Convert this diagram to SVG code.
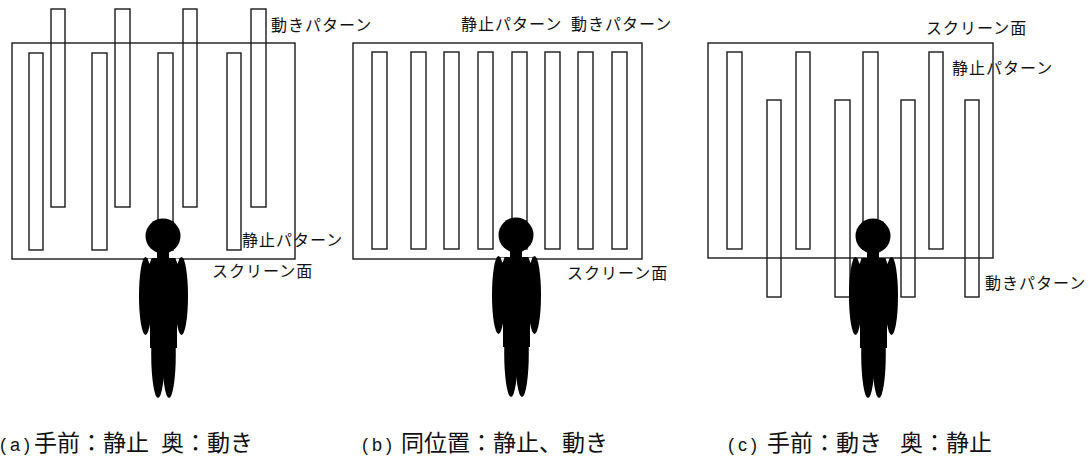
<svg xmlns="http://www.w3.org/2000/svg" width="1089" height="459" viewBox="0 0 1089 459">
  <style>
    .frame { fill: none; stroke: #1a1a1a; stroke-width: 1.4; }
    .bar { fill: none; stroke: #1a1a1a; stroke-width: 1.4; }
    .lbl { font-family: "Noto Sans CJK JP", "Noto Sans", sans-serif; font-size: 16px; letter-spacing: 1px; fill: #111; }
    .cap { font-family: "Noto Sans CJK JP", "Noto Sans", sans-serif; font-size: 23px; fill: #111; }
    .par { font-family: "Liberation Sans", "Noto Sans CJK JP", sans-serif; font-size: 18px; letter-spacing: 4px; fill: #111; }
  </style>
  <defs>
    <!-- standing viewer silhouette, origin at the head centre -->
    <g id="viewer" fill="#000">
      <circle cx="0" cy="0" r="17.5"/>
      <rect x="-6" y="12" width="12" height="14"/>
      <rect x="-20" y="22" width="41" height="14" rx="3"/>
      <ellipse cx="-17.5" cy="60" rx="6.5" ry="39"/>
      <ellipse cx="18.5" cy="60" rx="6.5" ry="39"/>
      <rect x="-13" y="22" width="27" height="90"/>
      <ellipse cx="-5" cy="118" rx="6.8" ry="44"/>
      <ellipse cx="6" cy="118" rx="6.8" ry="44"/>
      <polygon points="-15.5,22.5 -11.5,22.5 -13.5,28" fill="#fff"/>
      <polygon points="12.5,22.5 16.5,22.5 14.5,28" fill="#fff"/>
    </g>
  </defs>
  <rect width="1089" height="459" fill="#fff"/>

  <!-- (a) static in front, moving behind -->
  <g id="panel-a">
    <rect class="frame" x="12" y="43" width="283" height="216"/>
    <g id="a-moving">
      <rect class="bar" x="51" y="9" width="14" height="198"/>
      <rect class="bar" x="115" y="9" width="15" height="198"/>
      <rect class="bar" x="183" y="9" width="14" height="198"/>
      <rect class="bar" x="251" y="9" width="15" height="198"/>
    </g>
    <g id="a-static">
      <rect class="bar" x="29" y="53" width="14" height="197"/>
      <rect class="bar" x="92" y="53" width="15" height="197"/>
      <rect class="bar" x="158" y="53" width="15" height="197"/>
      <rect class="bar" x="227" y="53" width="14" height="197"/>
    </g>
    <use href="#viewer" x="163" y="236"/>
    <text class="lbl" x="271" y="31">動きパターン</text>
    <text class="lbl" x="242" y="246">静止パターン</text>
    <text class="lbl" x="212" y="277">スクリーン面</text>
    <text x="0" y="451"><tspan class="par">(a)</tspan></text>
    <text class="cap" x="34" y="451">手前：静止</text>
    <text class="cap" x="161" y="451">奥：動き</text>
  </g>

  <!-- (b) static and moving at the same depth -->
  <g id="panel-b">
    <rect class="frame" x="353" y="43" width="289" height="216"/>
    <g id="b-bars">
      <rect class="bar" x="372" y="52" width="15" height="197"/>
      <rect class="bar" x="411" y="52" width="15" height="197"/>
      <rect class="bar" x="444" y="52" width="15" height="197"/>
      <rect class="bar" x="478" y="52" width="15" height="197"/>
      <rect class="bar" x="512" y="52" width="15" height="197"/>
      <rect class="bar" x="545" y="52" width="15" height="197"/>
      <rect class="bar" x="578" y="52" width="15" height="197"/>
      <rect class="bar" x="612" y="52" width="15" height="197"/>
    </g>
    <use href="#viewer" x="516" y="235"/>
    <text class="lbl" x="461" y="30">静止パターン</text>
    <text class="lbl" x="571" y="30">動きパターン</text>
    <text class="lbl" x="567" y="279">スクリーン面</text>
    <text x="362" y="451"><tspan class="par">(b)</tspan></text>
    <text class="cap" x="401" y="451">同位置：静止、動き</text>
  </g>

  <!-- (c) moving in front, static behind -->
  <g id="panel-c">
    <rect class="frame" x="708" y="43" width="285" height="215"/>
    <g id="c-static">
      <rect class="bar" x="727" y="52" width="15" height="197"/>
      <rect class="bar" x="796" y="52" width="14" height="197"/>
      <rect class="bar" x="863" y="52" width="15" height="197"/>
      <rect class="bar" x="929" y="52" width="14" height="197"/>
    </g>
    <g id="c-moving">
      <rect class="bar" x="767" y="100" width="14" height="197"/>
      <rect class="bar" x="835" y="100" width="15" height="197"/>
      <rect class="bar" x="901" y="100" width="14" height="197"/>
      <rect class="bar" x="965" y="100" width="14" height="197"/>
    </g>
    <use href="#viewer" x="873" y="236"/>
    <text class="lbl" x="926" y="34">スクリーン面</text>
    <text class="lbl" x="952" y="74">静止パターン</text>
    <text class="lbl" x="985" y="289">動きパターン</text>
    <text x="728" y="451"><tspan class="par">(c)</tspan></text>
    <text class="cap" x="767" y="451">手前：動き</text>
    <text class="cap" x="900" y="451">奥：静止</text>
  </g>
</svg>
